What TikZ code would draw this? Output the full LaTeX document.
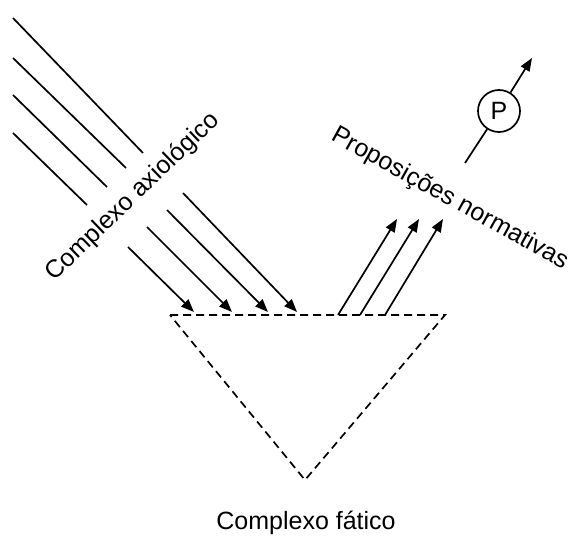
\documentclass[tikz,border=0pt]{standalone}
\usepackage{fontspec}
\setmainfont{Liberation Sans}
\usetikzlibrary{arrows.meta}
\tikzset{
  ln/.style={line width=1.7pt},
  arr/.style={line width=1.7pt,-{Triangle[length=13pt,width=10pt]}},
  dsh/.style={line width=1.7pt,dash pattern=on 8pt off 5pt},
  lbl/.style={font=\fontsize{25}{30}\selectfont,inner sep=0pt},
  pc/.style={circle,draw,line width=1.7pt,minimum size=42pt,inner sep=0pt,font=\fontsize{25}{30}\selectfont}
}
\begin{document}
\begin{tikzpicture}[x=1pt,y=-1pt]
\useasboundingbox (0,0) rectangle (573,537);
% upper-left plain lines
\coordinate (l1a) at (13,18);  \coordinate (l1b) at (143,153);
\coordinate (l2a) at (13,58);  \coordinate (l2b) at (126,168);
\coordinate (l3a) at (13,95);  \coordinate (l3b) at (107,187);
\coordinate (l4a) at (13,133); \coordinate (l4b) at (87,205);
\draw[ln] (l1a) -- (l1b);
\draw[ln] (l2a) -- (l2b);
\draw[ln] (l3a) -- (l3b);
\draw[ln] (l4a) -- (l4b);
% down arrows
\coordinate (d1a) at (128,247); \coordinate (d1b) at (194,312);
\coordinate (d2a) at (147,227); \coordinate (d2b) at (232,312);
\coordinate (d3a) at (167,210); \coordinate (d3b) at (268,312);
\coordinate (d4a) at (183,193); \coordinate (d4b) at (297,312);
\draw[arr] (d1a) -- (d1b);
\draw[arr] (d2a) -- (d2b);
\draw[arr] (d3a) -- (d3b);
\draw[arr] (d4a) -- (d4b);
% triangle
\coordinate (tl) at (170,315);
\coordinate (tr) at (445,315);
\coordinate (tb) at (305,480);
\draw[dsh] (tl) -- (tr) -- (tb) -- cycle;
% up arrows
\coordinate (u1a) at (338,315); \coordinate (u1b) at (397,219);
\coordinate (u2a) at (360,315); \coordinate (u2b) at (419,219);
\coordinate (u3a) at (385,315); \coordinate (u3b) at (443,219);
\draw[arr] (u1a) -- (u1b);
\draw[arr] (u2a) -- (u2b);
\draw[arr] (u3a) -- (u3b);
% P
\node[pc] (P) at (499,111) {P};
\coordinate (ps) at (465,163);
\coordinate (pe) at (532,58);
\draw[ln] (ps) -- (P);
\draw[arr] (P) -- (pe);
% labels
\node[lbl,rotate=44] (ax) at (133,197) {Complexo axiológico};
\node[lbl,rotate=-29] (pn) at (450,199) {Proposições normativas};
\node[lbl] (fa) at (306,523) {Complexo fático};
\end{tikzpicture}
\end{document}
